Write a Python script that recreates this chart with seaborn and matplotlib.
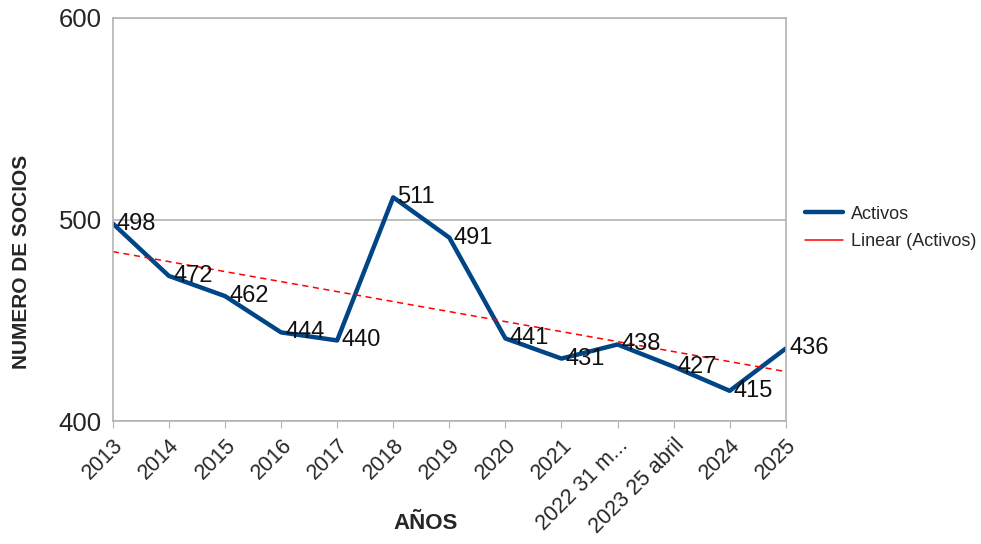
import numpy as np
import pandas as pd
import seaborn as sns
from matplotlib import pyplot as plt
from matplotlib.lines import Line2D

# datos del gráfico
anios = ['2013', '2014', '2015', '2016', '2017', '2018', '2019', '2020', '2021',
         '2022 31 m...', '2023 25 abril', '2024', '2025']
activos = [498, 472, 462, 444, 440, 511, 491, 441, 431, 438, 427, 415, 436]
y_ticks = [400, 500, 600]

df = pd.DataFrame({'pos': np.arange(len(anios)), 'Activos': activos})

# tendencia lineal (como en la hoja de cálculo)
coef = np.polyfit(df['pos'], df['Activos'], 1)
df['Tendencia'] = np.polyval(coef, df['pos'])

sns.set_style('white')
plt.rcParams['font.family'] = ['Liberation Sans', 'DejaVu Sans']

fig = plt.figure(figsize=(9.81, 5.44), dpi=100)
ax = fig.add_axes([0.115, 0.226, 0.686, 0.741])

azul = '#004586'
sns.lineplot(x='pos', y='Activos', data=df, color=azul, linewidth=3.2, ax=ax, legend=False)
sns.lineplot(x='pos', y='Tendencia', data=df, color='#ff0000', linewidth=1.1,
             linestyle=(0, (4, 3)), ax=ax, legend=False)

# etiquetas de valores
for x, v in zip(df['pos'], df['Activos']):
    ax.annotate(str(v), (x, v), xytext=(3, 0), textcoords='offset points',
                ha='left', va='center', fontsize=17, color='#111111')

ax.set_xlim(0, len(anios) - 1)
ax.set_ylim(400, 600)
ax.set_yticks(y_ticks)
ax.set_xticks(df['pos'])
ax.set_xticklabels(anios, rotation=45, ha='right', rotation_mode='anchor', fontsize=15.5)
ax.tick_params(axis='y', labelsize=18.5, length=5, color='#b3b3b3', pad=3)
ax.tick_params(axis='x', length=5, color='#b3b3b3', pad=5, bottom=True)
ax.yaxis.grid(True, color='#b3b3b3', linewidth=1.2)
for s in ax.spines.values():
    s.set_color('#b3b3b3')
    s.set_linewidth(1.2)

ax.set_xlabel('AÑOS', fontsize=16, fontweight='bold', va='center')
ax.xaxis.set_label_coords(0.465, -0.253)
ax.set_ylabel('NUMERO DE SOCIOS', fontsize=15, fontweight='bold', va='center')
ax.yaxis.set_label_coords(-0.135, 0.395)

handles = [Line2D([], [], color=azul, linewidth=3.2),
           Line2D([], [], color='#ff0000', linewidth=1.1)]
ax.legend(handles, ['Activos', 'Linear (Activos)'], loc='center left',
          bbox_to_anchor=(1.028, 0.479), frameon=False, fontsize=13,
          handlelength=2.1, handletextpad=0.45, labelspacing=0.6,
          borderpad=0, borderaxespad=0)

plt.savefig('out.png', dpi=100)
